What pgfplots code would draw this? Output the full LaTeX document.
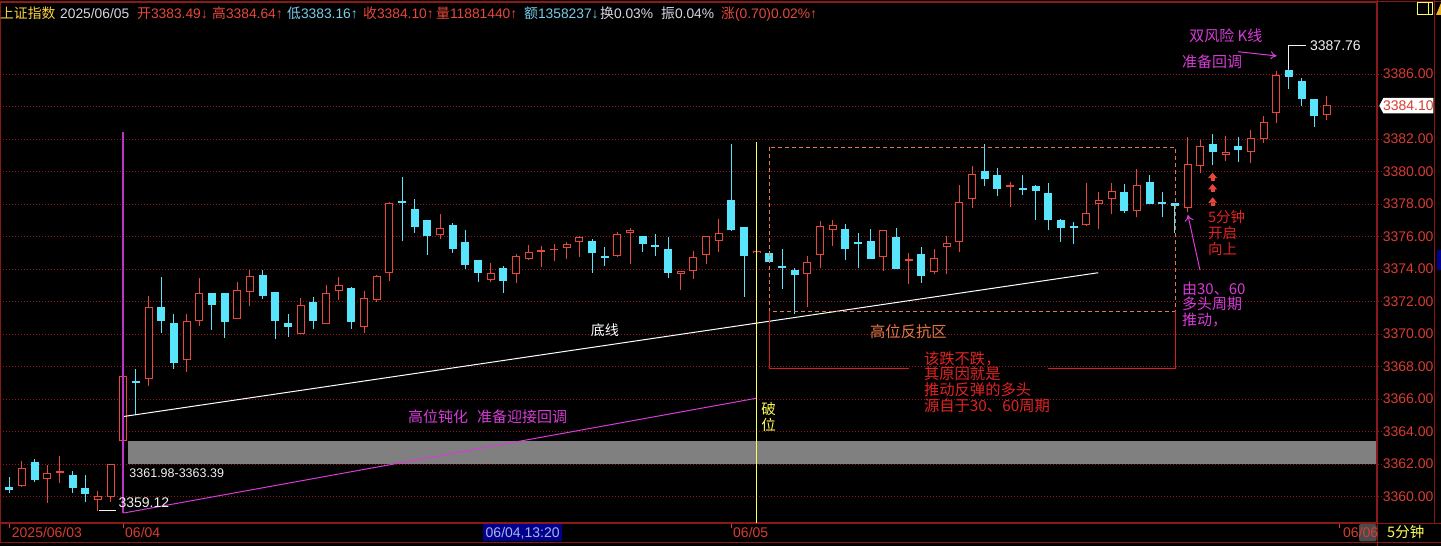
\documentclass[border=0pt]{standalone}
\usepackage{fontspec}
\setmainfont{Liberation Sans}
\newfontfamily\cjk{Noto Sans CJK SC}
\usepackage{pgfplots}
\pgfplotsset{compat=1.18}
\usepackage{pgfplotstable}
\usetikzlibrary{arrows.meta}
\definecolor{kRed}{RGB}{232,72,60}
\definecolor{kCyan}{RGB}{88,228,250}
\definecolor{frameRed}{RGB}{140,25,25}
\definecolor{gridRed}{RGB}{150,25,25}
\definecolor{tickRed}{RGB}{215,60,50}
\definecolor{mag}{RGB}{215,60,215}
\definecolor{purp}{RGB}{190,50,200}
\definecolor{yel}{RGB}{255,255,90}
\definecolor{orng}{RGB}{230,120,70}
\definecolor{brRed}{RGB}{215,30,30}
\definecolor{txtRed}{RGB}{225,35,35}
\definecolor{hdrYel}{RGB}{250,210,60}
\definecolor{hdrGray}{RGB}{215,215,228}
\definecolor{hdrCyan}{RGB}{120,205,235}
\definecolor{navy}{RGB}{0,0,140}
\definecolor{navyTxt}{RGB}{170,180,235}
\definecolor{dkGray}{RGB}{75,75,75}
\definecolor{triYel}{RGB}{240,180,30}
\definecolor{bandGray}{RGB}{128,128,128}
\newcommand\fs[1]{\fontsize{#1pt}{#1pt}\selectfont}

\pgfplotstableread{
x o h l c
-8 3360.65 3362.16 3360.56 3361.73
-6 3361.06 3361.92 3359.58 3361.43
-5 3361.46 3362.47 3360.81 3361.58
-2 3359.76 3360.32 3359.12 3360.05
-1 3359.95 3361.98 3359.68 3361.98
0 3363.39 3367.45 3363.39 3367.42
2 3367.21 3372.34 3366.82 3371.64
5 3368.38 3371.21 3367.68 3370.78
6 3370.82 3373.43 3370.51 3372.50
9 3370.94 3373.18 3370.94 3372.69
10 3372.61 3373.92 3371.74 3373.55
14 3369.98 3372.20 3369.98 3371.76
16 3370.60 3372.99 3370.60 3372.50
17 3372.63 3373.49 3372.07 3372.99
19 3370.41 3372.63 3370.04 3372.20
20 3372.07 3373.61 3371.95 3373.55
21 3373.73 3378.10 3373.24 3378.04
25 3376.07 3377.36 3375.83 3376.50
29 3373.34 3374.35 3373.22 3373.77
31 3373.71 3374.90 3373.16 3374.78
32 3374.64 3375.46 3374.58 3375.03
33 3375.05 3375.40 3374.14 3375.17
34 3375.14 3375.52 3374.51 3375.26
35 3375.27 3375.64 3374.64 3375.52
36 3375.64 3376.01 3374.76 3375.95
39 3374.82 3376.26 3374.76 3376.13
40 3376.19 3376.50 3374.33 3376.38
44 3373.71 3373.90 3372.73 3373.90
45 3373.90 3375.09 3373.41 3374.72
46 3374.88 3376.01 3374.33 3376.01
47 3375.74 3377.06 3375.07 3376.19
50 3374.96 3375.09 3374.96 3375.09
54 3373.71 3374.78 3371.64 3374.45
55 3374.88 3376.93 3374.08 3376.63
56 3376.38 3376.99 3375.44 3376.69
60 3374.72 3376.38 3373.90 3376.38
62 3374.47 3374.96 3373.10 3374.59
64 3373.84 3375.21 3373.71 3374.66
65 3375.37 3376.01 3373.71 3375.58
66 3375.64 3379.15 3375.03 3378.10
67 3378.29 3380.32 3377.73 3379.83
70 3379.05 3379.33 3377.79 3379.17
76 3376.69 3379.27 3376.63 3377.43
77 3377.98 3378.72 3376.44 3378.23
78 3378.29 3379.27 3377.36 3378.78
80 3377.55 3380.13 3377.18 3379.15
84 3377.77 3382.14 3377.49 3380.46
85 3380.32 3381.94 3379.89 3381.55
87 3381.04 3382.16 3380.67 3381.22
89 3381.22 3382.55 3380.54 3382.08
90 3382.02 3383.40 3381.77 3383.07
91 3383.58 3386.16 3382.96 3385.92
95 3383.49 3384.64 3383.16 3384.10
}\upT

\pgfplotstableread{
x o h l c
-9 3360.56 3361.18 3360.20 3360.40
-7 3362.10 3362.29 3360.91 3361.01
-4 3361.30 3361.55 3360.24 3360.54
-3 3360.50 3361.30 3359.64 3360.13
1 3367.10 3367.85 3365.00 3366.98
3 3371.64 3373.49 3370.08 3370.82
4 3370.66 3371.21 3367.87 3368.24
7 3372.50 3372.50 3370.27 3371.81
8 3372.50 3372.50 3369.77 3370.76
11 3373.61 3373.92 3372.17 3372.36
12 3372.56 3372.56 3369.71 3370.82
13 3370.66 3371.21 3369.84 3370.45
15 3371.95 3372.26 3370.33 3370.82
18 3372.81 3372.87 3370.33 3370.76
22 3378.21 3379.64 3375.70 3378.09
23 3377.67 3378.29 3376.24 3376.61
24 3376.99 3376.99 3374.88 3376.05
26 3376.69 3376.81 3375.01 3375.25
27 3375.64 3376.38 3374.02 3374.27
28 3374.53 3374.53 3373.22 3373.77
30 3374.04 3374.16 3372.54 3373.28
37 3375.70 3375.83 3373.77 3375.01
38 3374.82 3375.33 3374.21 3374.70
41 3376.01 3376.01 3375.07 3375.56
42 3375.50 3376.13 3374.82 3375.38
43 3375.21 3375.95 3373.47 3373.77
48 3378.23 3381.67 3376.32 3376.38
49 3376.57 3376.57 3372.30 3374.82
51 3374.96 3375.10 3374.45 3374.45
52 3374.18 3375.21 3372.79 3374.06
53 3373.92 3374.04 3371.21 3373.65
57 3376.44 3376.75 3374.53 3375.21
58 3375.64 3376.19 3374.08 3375.52
59 3375.70 3376.44 3374.60 3374.60
61 3375.95 3376.50 3373.98 3373.98
63 3374.90 3375.33 3373.16 3373.59
68 3380.01 3381.67 3379.09 3379.52
69 3379.77 3380.20 3378.47 3378.94
71 3379.00 3379.77 3378.53 3378.88
72 3379.09 3379.15 3377.00 3378.78
73 3378.66 3379.27 3376.38 3377.00
74 3377.00 3377.06 3375.64 3376.50
75 3376.67 3376.87 3375.52 3376.55
79 3378.72 3379.21 3377.43 3377.55
81 3379.33 3379.77 3377.98 3377.98
82 3378.10 3378.72 3377.18 3377.98
83 3378.04 3378.04 3376.19 3377.86
86 3381.69 3382.29 3380.38 3381.22
88 3381.57 3382.10 3380.60 3381.34
92 3386.25 3387.76 3385.06 3385.84
93 3385.57 3385.73 3384.03 3384.44
94 3384.44 3384.44 3382.76 3383.42
}\dnT

\begin{document}
\begin{tikzpicture}
\fill[black] (0pt,0pt) rectangle (1441pt,546pt);
\useasboundingbox (0pt,0pt) rectangle (1441pt,546pt);
\begin{axis}[
  at={(0pt,23pt)}, anchor=south west,
  scale only axis, width=1377pt, height=521pt,
  xmin=-9.732, xmax=98.95, ymin=3358.37, ymax=3390.43,
  clip=false,
  axis line style={frameRed, line width=1.2pt},
  xtick={-9,0,48,96}, xticklabels={},
  xtick pos=left, ytick pos=right,
  ytick={3360,3362,...,3386},
  yticklabel pos=right,
  tick align=outside, major tick length=5pt,
  x tick style={tickRed, line width=1pt},
  y tick style={gridRed, dash pattern=on 1pt off 1.5pt, line width=0.8pt},
  ymajorgrids,
  grid style={gridRed, dash pattern=on 1pt off 2pt, line width=0.8pt},
  yticklabel style={text=tickRed, font=\fs{14}, inner sep=0.7pt},
  /pgf/number format/.cd, fixed, fixed zerofill, precision=2, 1000 sep={}, assume math mode=true,
]
% gray gap band
\fill[bandGray] (0.37,3363.39) rectangle (98.87,3361.98);

% wicks
\addplot[draw=none, error bars/.cd, y dir=plus, y explicit, error mark=none,
  error bar style={draw=kRed, line width=1pt, solid}]
  table[x=x, y=l, y error plus expr={\thisrow{h}-\thisrow{l}}] {\upT};
\addplot[draw=none, error bars/.cd, y dir=plus, y explicit, error mark=none,
  error bar style={draw=kCyan, line width=1pt, solid}]
  table[x=x, y=l, y error plus expr={\thisrow{h}-\thisrow{l}}] {\dnT};
% bodies
\addplot[draw=none, error bars/.cd, y dir=plus, y explicit, error mark=none,
  error bar style={draw=kRed, line width=8pt, solid}]
  table[x=x, y=o, y error plus expr={\thisrow{c}-\thisrow{o}}] {\upT};
\addplot[draw=none, error bars/.cd, y dir=plus, y explicit, error mark=none,
  error bar style={draw=black, line width=6pt, solid}]
  table[x=x, y expr={\thisrow{o}+0.0615}, y error plus expr={max(\thisrow{c}-\thisrow{o}-0.123,0)}] {\upT};
\addplot[draw=none, error bars/.cd, y dir=plus, y explicit, error mark=none,
  error bar style={draw=kCyan, line width=8pt, solid}]
  table[x=x, y=c, y error plus expr={\thisrow{o}-\thisrow{c}}] {\dnT};

% red up arrows
\addplot[only marks, mark=triangle*, mark size=4pt, color=kRed, mark options={xscale=1.15, yscale=0.8}]
  coordinates {(85.98,3379.71) (85.98,3379.01) (85.98,3378.19)};
\addplot[only marks, mark=square*, mark size=1.1pt, color=kRed]
  coordinates {(85.98,3379.53) (85.98,3378.83) (85.98,3378.01)};

% lines
\draw[white, line width=1pt] (0,3364.92) -- (76.95,3373.77);
\draw[mag, line width=1pt] (0,3358.98) -- (49.93,3366.04);
\draw[purp, line width=1.6pt] (0,3382.43) -- (0,3358.98);
\draw[yel, line width=1pt] (50,3381.82) -- (50,3358.37);
\draw[orng, line width=1pt, dash pattern=on 4pt off 3pt] (50.99,3381.49) rectangle (83.03,3371.40);
\draw[brRed, line width=1.3pt] (50.99,3371.40) -- (50.99,3367.89) -- (62.01,3367.89);
\draw[brRed, line width=1.3pt] (73.0,3367.89) -- (83.03,3367.89) -- (83.03,3371.40);
\draw[white!90!gray, line width=1pt] (92,3386.3) -- (92,3387.76) -- (93.34,3387.76);
\draw[white!90!gray, line width=1pt] (-1.92,3359.12) -- (-0.58,3359.12);
\draw[mag, line width=1pt, -{To[length=6pt,width=9pt]}] (84.98,3373.94) -- (84.03,3377.32);
\draw[mag, line width=1pt, -{To[length=6pt,width=8pt]}] (88.0,3387.37) -- (91.03,3387.11);

% texts
\node[text=white, font=\cjk\fs{14}] at (38.02,3370.25) {底线};
\node[text=mag, font=\cjk\fs{15}, anchor=west, inner sep=0pt] at (22.47,3364.89) {高位钝化\hspace{9pt}准备迎接回调};
\node[text=yel, font=\cjk\fs{14.5}, inner sep=0pt] at (50.93,3365.38) {破};
\node[text=yel, font=\cjk\fs{14.5}, inner sep=0pt] at (50.93,3364.43) {位};
\node[text=orng, font=\cjk\fs{15.3}] at (61.97,3370.12) {高位反抗区};
\node[text=txtRed, font=\cjk\fs{15.3}, anchor=west, inner sep=0pt] at (63.19,3368.50) {该跌不跌，};
\node[text=txtRed, font=\cjk\fs{15.3}, anchor=west, inner sep=0pt] at (63.19,3367.53) {其原因就是};
\node[text=txtRed, font=\cjk\fs{15.3}, anchor=west, inner sep=0pt] at (63.19,3366.55) {推动反弹的多头};
\node[text=txtRed, font=\cjk\fs{15.3}, anchor=west, inner sep=0pt] at (63.19,3365.58) {源自于30、60周期};
\node[text=txtRed, font=\cjk\fs{14.5}, anchor=west, inner sep=0pt] at (85.61,3377.22) {5分钟};
\node[text=txtRed, font=\cjk\fs{14.5}, anchor=west, inner sep=0pt] at (85.61,3376.23) {开启};
\node[text=txtRed, font=\cjk\fs{14.5}, anchor=west, inner sep=0pt] at (85.61,3375.21) {向上};
\node[text=mag, font=\cjk\fs{15}, anchor=west, inner sep=0pt] at (83.56,3372.81) {由30、60};
\node[text=mag, font=\cjk\fs{15}, anchor=west, inner sep=0pt] at (83.56,3371.85) {多头周期};
\node[text=mag, font=\cjk\fs{15}, anchor=west, inner sep=0pt] at (83.56,3370.86) {推动，};
\node[text=mag, font=\cjk\fs{15}, anchor=west, inner sep=0pt] at (84.12,3388.34) {双风险 K线};
\node[text=mag, font=\cjk\fs{15}, anchor=west, inner sep=0pt] at (83.56,3386.76) {准备回调};
\node[text=white!90!gray, font=\fs{14}, anchor=west, inner sep=0pt] at (93.66,3387.72) {3387.76};
\node[text=white!90!gray, font=\fs{14}, anchor=west, inner sep=0pt] at (-0.39,3359.64) {3359.12};
\node[text=white!90!gray, font=\fs{12.5}, anchor=west, inner sep=0pt] at (0.47,3361.46) {3361.98-3363.39};
\end{axis}

% current price box
\fill[white] (1379.3pt,440.3pt) -- (1383.3pt,448pt) -- (1433.3pt,448pt) -- (1433.3pt,432.7pt) -- (1383.3pt,432.7pt) -- cycle;
\node[text=tickRed, font=\fs{14}, anchor=west, inner sep=0pt] at (1382.8pt,440.3pt) {3384.10};

% frame
\draw[frameRed, line width=1pt] (0pt,544.5pt) -- (1441pt,544.5pt);
\draw[frameRed, line width=1pt] (0pt,22.8pt) -- (1441pt,22.8pt);
\draw[frameRed, line width=1pt] (0pt,3.5pt) -- (1441pt,3.5pt);
\draw[frameRed, line width=1pt] (1377pt,0pt) -- (1377pt,546pt);
\draw[frameRed, line width=1pt] (1434.5pt,23pt) -- (1434.5pt,546pt);
\draw[frameRed, line width=1pt] (0.5pt,3.5pt) -- (0.5pt,544.5pt);
\draw[yel, line width=1pt] (1417pt,531pt) rectangle (1432pt,543pt);
\draw[yel, line width=1pt] (1428pt,531pt) -- (1428pt,543pt);
\fill[triYel] (1436pt,531pt) -- (1441pt,543pt) -- (1441pt,531pt) -- cycle;
\fill[navy] (1437pt,276pt) rectangle (1441pt,296pt);

% header
\node[anchor=base west, inner sep=0pt, text=hdrYel, font=\cjk\fs{13.8}] at (0pt,527pt) {上证指数};
\node[anchor=base west, inner sep=0pt, text=hdrGray, font=\fs{13.8}] at (60pt,527pt) {2025/06/05};
\node[anchor=base west, inner sep=0pt, text=kRed, font=\fs{13.8}] at (137pt,527pt) {{\cjk 开}3383.49↓};
\node[anchor=base west, inner sep=0pt, text=kRed, font=\fs{13.8}] at (212pt,527pt) {{\cjk 高}3384.64↑};
\node[anchor=base west, inner sep=0pt, text=hdrCyan, font=\fs{13.8}] at (287pt,527pt) {{\cjk 低}3383.16↑};
\node[anchor=base west, inner sep=0pt, text=kRed, font=\fs{13.8}] at (363pt,527pt) {{\cjk 收}3384.10↑};
\node[anchor=base west, inner sep=0pt, text=kRed, font=\fs{13.8}] at (436pt,527pt) {{\cjk 量}11881440↑};
\node[anchor=base west, inner sep=0pt, text=hdrCyan, font=\fs{13.8}] at (524pt,527pt) {{\cjk 额}1358237↓};
\node[anchor=base west, inner sep=0pt, text=hdrGray, font=\fs{13.8}] at (600pt,527pt) {{\cjk 换}0.03\%};
\node[anchor=base west, inner sep=0pt, text=hdrGray, font=\fs{13.8}] at (661pt,527pt) {{\cjk 振}0.04\%};
\node[anchor=base west, inner sep=0pt, text=kRed, font=\fs{13.8}] at (721pt,527pt) {{\cjk 涨}(0.70)0.02\%↑};

% date strip
\node[anchor=base west, inner sep=0pt, text=tickRed, font=\fs{14}] at (11.7pt,8.5pt) {2025/06/03};
\node[anchor=base west, inner sep=0pt, text=tickRed, font=\fs{14}] at (125pt,8.5pt) {06/04};
\fill[navy] (483.3pt,5pt) rectangle (561.7pt,22.3pt);
\node[anchor=base west, inner sep=0pt, text=navyTxt, font=\fs{14}] at (485.5pt,8.5pt) {06/04,13:20};
\node[anchor=base west, inner sep=0pt, text=tickRed, font=\fs{14}] at (733pt,8.5pt) {06/05};
\fill[dkGray, rounded corners=2pt] (1359pt,4.5pt) rectangle (1376.5pt,22pt);
\node[anchor=base west, inner sep=0pt, text=tickRed, font=\fs{14}] at (1343pt,8.5pt) {06/06};
\node[anchor=base west, inner sep=0pt, text=yel, font=\cjk\fs{14.5}] at (1387pt,8.5pt) {5分钟};
\end{tikzpicture}
\end{document}
